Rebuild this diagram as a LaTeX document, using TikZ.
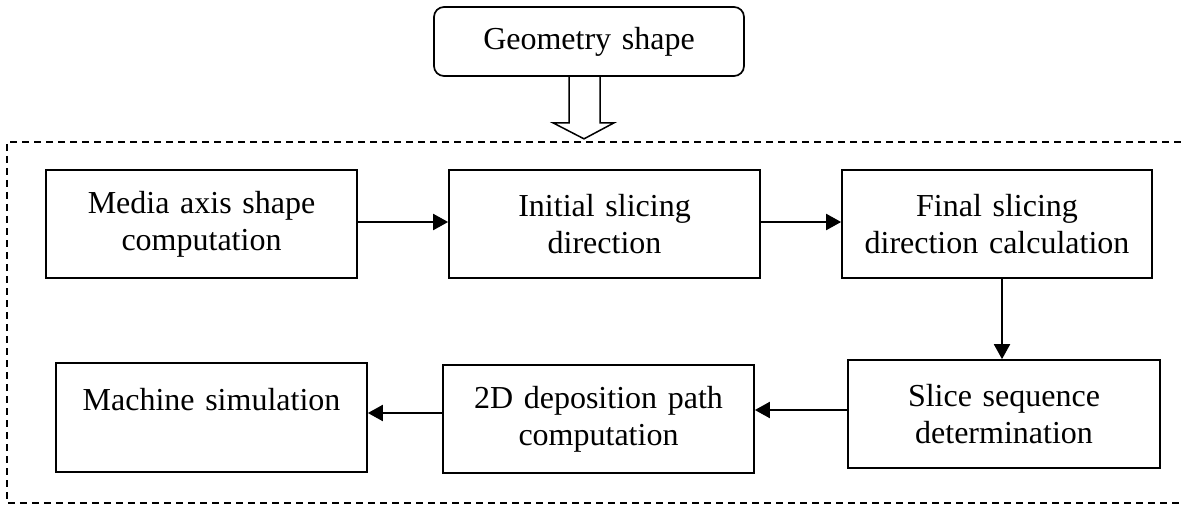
\documentclass[tikz,border=0pt]{standalone}
\usepackage{fontspec}
\setmainfont{Liberation Serif}
\usetikzlibrary{arrows.meta,calc}
\begin{document}
\begin{tikzpicture}[x=0.5pt,y=-0.5pt,
  font=\fontsize{16}{18.4}\selectfont,
  box/.style={draw, line width=0.85pt, inner sep=0pt, align=center, text width=150pt},
  arr/.style={line width=1pt, -{Triangle[length=7.5pt,width=8pt]}},
  frame/.style={line width=0.75pt, dash pattern=on 3.7pt off 2.3pt}]
\useasboundingbox (0,0) rectangle (1181,508);
\node[box, rounded corners=5pt, minimum width=155pt, minimum height=34.5pt] (geo) at (589,41.5) {Geometry shape};
\node[box, minimum width=155.5pt, minimum height=54pt] (b1) at (201.5,224) {Media axis shape\\computation};
\node[box, minimum width=155.5pt, minimum height=54pt] (b2) at (604.5,224) {Initial slicing\\direction};
\node[box, minimum width=155pt, minimum height=54pt] (b3) at (997,224) {Final slicing\\direction calculation};
\node[box, minimum width=156pt, minimum height=54pt] (b4) at (1004,414) {Slice sequence\\determination};
\node[box, minimum width=155.5pt, minimum height=54pt] (b5) at (598.5,419) {2D deposition path\\computation};
\node[box, minimum width=155.5pt, minimum height=54.5pt] (b6) at (211.5,417.5) {Machine simulation\\\mbox{}};
% hollow arrow
\draw[line width=0.75pt, line join=miter]
  ($(geo.south)+(-20,0)$) -- ($(geo.south)+(-20,46)$) -- ($(geo.south)+(-36,46)$) --
  ($(geo.south)+(-5,62)$) -- ($(geo.south)+(25,46)$) -- ($(geo.south)+(11,46)$) -- ($(geo.south)+(11,0)$);
% dashed frame
\coordinate (ftr) at (1181,142);
\coordinate (ftl) at (7,142);
\coordinate (fbl) at (7,503);
\coordinate (fbr) at (1181,503);
\draw[frame] (ftr) -- (ftl) -- (fbl) -- (fbr);
% arrows
\draw[arr] ([yshift=1pt]b1.east) -- ([yshift=1pt]b1.east -| b2.west);
\draw[arr] ([yshift=1pt]b2.east) -- ([yshift=1pt]b2.east -| b3.west);
\draw[arr] ([xshift=2.5pt]b3.south) -- ([xshift=2.5pt]b3.south |- b4.north);
\draw[arr] ([yshift=2pt]b4.west) -- ([yshift=2pt]b4.west -| b5.east);
\draw[arr] ([yshift=3pt]b5.west) -- ([yshift=3pt]b5.west -| b6.east);
\end{tikzpicture}
\end{document}
